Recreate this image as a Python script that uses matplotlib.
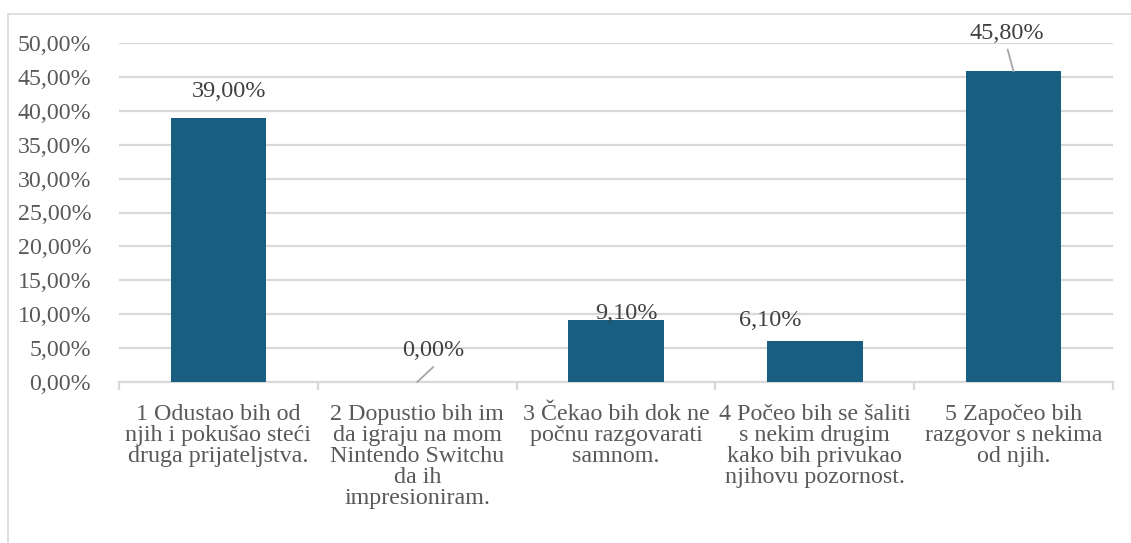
import matplotlib.pyplot as plt
from matplotlib.patches import Rectangle
from matplotlib.ticker import FuncFormatter, MultipleLocator

# Data
categories = [
    "1 Odustao bih od\nnjih i pokušao steći\ndruga prijateljstva.",
    "2 Dopustio bih im\nda igraju na mom\nNintendo Switchu\nda ih\nimpresioniram.",
    "3 Čekao bih dok ne\npočnu razgovarati\nsamnom.",
    "4 Počeo bih se šaliti\ns nekim drugim\nkako bih privukao\nnjihovu pozornost.",
    "5 Započeo bih\nrazgovor s nekima\nod njih.",
]
values = [39.0, 0.0, 9.1, 6.1, 45.8]
value_labels = ["39,00%", "0,00%", "9,10%", "6,10%", "45,80%"]

# label offsets in pixels (x, y) relative to the bar top
label_offsets = [(11, 26), (16, 32), (11, 7), (-45, 20), (-7, 38)]
# leader line end (pixels from the bar top), None = no leader line
leader_ends = [None, (16, 15), None, None, (-6, 22)]

BAR_COLOR = "#175E80"
GRID_COLOR = "#D9D9D9"
TEXT_COLOR = "#595959"

plt.rcParams["font.family"] = ["Liberation Serif", "DejaVu Serif"]

fig = plt.figure(figsize=(11.31, 5.43), dpi=100)
ax = fig.add_axes([119 / 1131, 1 - 382 / 543, (1113 - 119) / 1131, (382 - 43) / 543])

# outer chart frame (only left and top edges are visible in the crop)
fig.add_artist(Rectangle((8 / 1131, -0.1), 1.2, 1 - 14 / 543 + 0.1,
                         transform=fig.transFigure, fill=False,
                         edgecolor=GRID_COLOR, linewidth=1.2))

x = range(len(values))
ax.bar(x, values, width=0.48, color=BAR_COLOR, zorder=3)

ax.set_xlim(-0.5, len(values) - 0.5)
ax.set_ylim(0, 50)
ax.yaxis.set_major_locator(MultipleLocator(5))
ax.yaxis.set_major_formatter(FuncFormatter(lambda v, p: f"{v:.2f}".replace(".", ",") + "%"))
ax.grid(axis="y", color=GRID_COLOR, linewidth=1.6, zorder=0)
ax.set_axisbelow(True)

for s in ["left", "right", "top"]:
    ax.spines[s].set_visible(False)
ax.spines["bottom"].set_color(GRID_COLOR)
ax.spines["bottom"].set_linewidth(1.6)

ax.set_xticks(list(x))
ax.set_xticklabels(categories, fontsize=17.3, color=TEXT_COLOR, linespacing=1.0,
                   ha="center", va="top")
ax.set_xticks([i - 0.5 for i in range(len(values) + 1)], minor=True)
ax.tick_params(axis="x", which="major", length=0, pad=16)
ax.tick_params(axis="x", which="minor", length=6, color=GRID_COLOR, width=1.6)
ax.tick_params(axis="y", length=0, pad=20, labelsize=17.2, labelcolor=TEXT_COLOR)

for i, (v, lab) in enumerate(zip(values, value_labels)):
    dx, dy = label_offsets[i]
    ax.annotate(lab, xy=(i, v), xytext=(dx, dy), textcoords="offset pixels",
                ha="center", va="center", fontsize=17.5, color="#404040", zorder=5)
    if leader_ends[i] is not None:
        ax.annotate("", xy=(i, v), xytext=leader_ends[i], textcoords="offset pixels",
                    arrowprops=dict(arrowstyle="-", color="#A6A6A6", lw=1.3,
                                    shrinkA=0, shrinkB=0),
                    zorder=5)

fig.savefig("out.png", dpi=100)
